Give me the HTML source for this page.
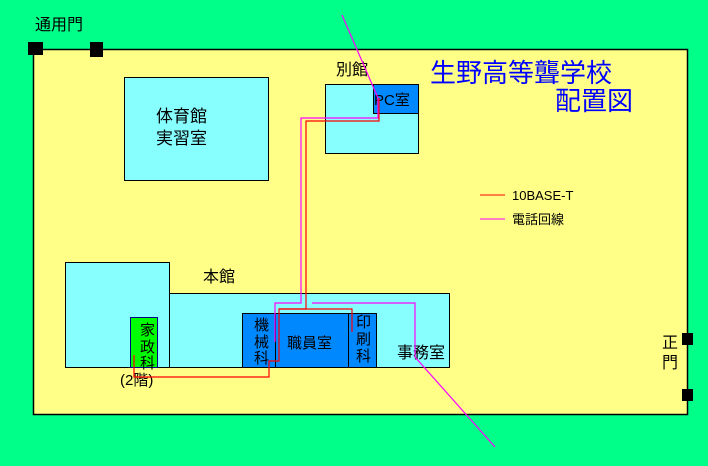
<!DOCTYPE html>
<html><head><meta charset="utf-8"><style>body{margin:0}svg{display:block}text{font-family:"Liberation Sans","Noto Sans CJK JP",sans-serif}</style></head><body>
<svg width="708" height="466" xmlns="http://www.w3.org/2000/svg">
<rect width="708" height="466" fill="#00FF88"/>
<rect x="33.5" y="49.5" width="654" height="365" fill="#FFFF88" stroke="#000" stroke-width="1.5"/>
<rect x="28" y="42" width="15" height="13" fill="#000"/>
<rect x="90" y="42" width="13" height="15" fill="#000"/>
<rect x="682" y="333" width="11" height="12" fill="#000"/>
<rect x="682" y="389" width="11" height="12" fill="#000"/>
<text x="35" y="30" font-size="16">通用門</text>
<text x="662" y="348" font-size="16">正</text>
<text x="662" y="368" font-size="16">門</text>
<rect x="124.5" y="77.5" width="144" height="103" fill="#88FFFF" stroke="#000"/>
<text x="156" y="122" font-size="17">体育館</text>
<text x="156" y="144" font-size="17">実習室</text>
<rect x="325.5" y="84.5" width="93" height="69" fill="#88FFFF" stroke="#000"/>
<rect x="373.5" y="84.5" width="45" height="29" fill="#0088FF" stroke="#000"/>
<text x="336" y="75" font-size="16">別館</text>
<text x="374" y="105" font-size="15">PC室</text>
<rect x="65.5" y="262.5" width="104" height="105" fill="#88FFFF" stroke="#000"/>
<rect x="169.5" y="293.5" width="280" height="74" fill="#88FFFF" stroke="#000"/>
<text x="203" y="282" font-size="16">本館</text>
<rect x="130.5" y="317.5" width="27" height="50" fill="#00FF00" stroke="#000088"/>
<text x="140" y="335" font-size="15">家</text><text x="140" y="352" font-size="15">政</text><text x="140" y="368" font-size="15">科</text>
<text x="120" y="385" font-size="15">(2階)</text>
<rect x="242.5" y="313.5" width="33" height="54" fill="#0088FF" stroke="#000"/>
<rect x="275.5" y="313.5" width="73" height="54" fill="#0088FF" stroke="#000"/>
<rect x="348.5" y="313.5" width="28" height="54" fill="#0088FF" stroke="#000"/>
<text x="254" y="330" font-size="15">機</text><text x="254" y="347" font-size="15">械</text><text x="254" y="363" font-size="15">科</text>
<text x="287" y="348" font-size="15">職員室</text>
<text x="356" y="327" font-size="15">印</text><text x="356" y="344" font-size="15">刷</text><text x="356" y="361" font-size="15">科</text>
<text x="397" y="358" font-size="16">事務室</text>
<text x="430" y="82" font-size="26" fill="#0000FF">生野高等聾学校</text>
<text x="555" y="110" font-size="26" fill="#0000FF">配置図</text>
<line x1="480" y1="195" x2="505" y2="195" stroke="#FF0000"/>
<text x="512" y="200" font-size="13">10BASE-T</text>
<line x1="480" y1="219" x2="505" y2="219" stroke="#FF00FF"/>
<text x="512" y="224" font-size="13">電話回線</text>
<g fill="none" stroke-width="1.2">
<polyline stroke="#FF00FF" points="342,15 378,98 378,118 301,118 301,303 275,303 275,342"/>
<polyline stroke="#FF00FF" points="312,303 415,303 415,357 495,447"/>
<polyline stroke="#FF0000" points="379,98 379,121 306,121 306,309 279,309 279,361 269,361 269,377 134,377 134,355"/>
<polyline stroke="#FF0000" points="279,309 352,309 352,332"/>
</g>
</svg>
</body></html>
